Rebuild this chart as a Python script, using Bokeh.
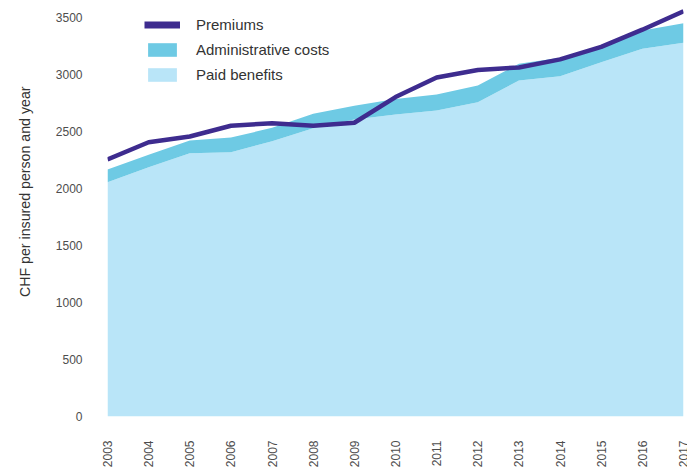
from bokeh.plotting import figure
from bokeh.models import Range1d, FixedTicker, Legend, LegendItem, ColumnDataSource
from bokeh.embed import file_html
from bokeh.resources import INLINE
import math

years = [2003, 2004, 2005, 2006, 2007, 2008, 2009, 2010, 2011, 2012, 2013, 2014, 2015, 2016, 2017]
paid_benefits = [2055, 2187, 2310, 2319, 2415, 2529, 2605, 2649, 2684, 2757, 2947, 2985, 3108, 3225, 3278]
admin_costs = [112, 108, 111, 128, 117, 126, 120, 137, 141, 147, 147, 161, 146, 161, 172]
premiums = [2254, 2406, 2456, 2550, 2573, 2550, 2577, 2802, 2974, 3040, 3062, 3133, 3243, 3393, 3555]
y_ticks = [0, 500, 1000, 1500, 2000, 2500, 3000, 3500]
y_title = "CHF per insured person and year"

total = [p + a for p, a in zip(paid_benefits, admin_costs)]
src = ColumnDataSource(dict(x=years, paid=paid_benefits, total=total, prem=premiums,
                            zero=[0] * len(years)))

LINE = "#3e2c8f"
ADMIN = "#6ecae4"
PAID = "#b9e5f8"
FONT = "Liberation Sans"

p = figure(width=687, height=470, output_backend="svg", toolbar_location=None,
           x_range=Range1d(2003, 2017), y_range=Range1d(0, 3631.6),
           min_border_left=107, min_border_right=4, min_border_top=2, min_border_bottom=54)

r_paid = p.varea(x="x", y1="zero", y2="paid", source=src, fill_color=PAID)
r_admin = p.varea(x="x", y1="paid", y2="total", source=src, fill_color=ADMIN)
p.line(x="x", y="prem", source=src, line_color=LINE, line_width=4.5)

# legend proxy for the thicker legend line (single point: draws nothing on the plot)
r_line = p.line(x=years[:1], y=premiums[:1], line_color=LINE, line_width=7)

legend = Legend(items=[
    LegendItem(label="Premiums", renderers=[r_line]),
    LegendItem(label="Administrative costs", renderers=[r_admin]),
    LegendItem(label="Paid benefits", renderers=[r_paid]),
], location=(37, 333), glyph_width=36, glyph_height=17, label_height=17, spacing=8,
    padding=0, margin=0, label_standoff=16, label_text_font_size="15px",
    label_text_color="#333333", label_text_font=FONT,
    background_fill_alpha=0, border_line_color=None)
p.add_layout(legend, "center")

p.xgrid.visible = False
p.ygrid.visible = False
p.outline_line_color = None

for ax in (p.xaxis[0], p.yaxis[0]):
    ax.axis_line_color = None
    ax.major_tick_line_color = None
    ax.minor_tick_line_color = None
    ax.major_tick_out = 0
    ax.major_tick_in = 0
    ax.major_label_text_font = FONT
    ax.major_label_text_font_size = "12px"
    ax.major_label_text_color = "#4d4d4d"

p.xaxis.ticker = FixedTicker(ticks=years)
p.xaxis.major_label_orientation = math.pi / 2
p.xaxis.major_label_standoff = 24

p.yaxis.ticker = FixedTicker(ticks=y_ticks)
p.yaxis.major_label_standoff = 25
# leading no-break spaces shift the centred title up to where the reference has it
p.yaxis.axis_label = "\u00a0" * 9 + y_title
p.yaxis.axis_label_text_font = FONT
p.yaxis.axis_label_text_font_size = "14.2px"
p.yaxis.axis_label_text_font_style = "normal"
p.yaxis.axis_label_text_color = "#333333"
p.yaxis.axis_label_standoff = 20

open("out.html", "w").write(file_html(p, INLINE))
